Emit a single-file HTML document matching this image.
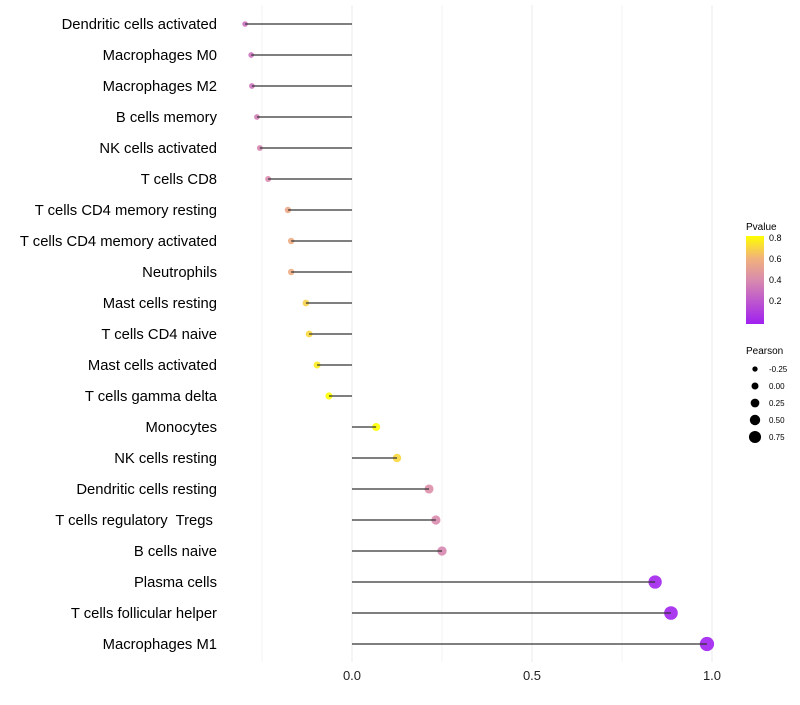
<!DOCTYPE html>
<html><head><meta charset="utf-8"><style>
body{margin:0;background:#fff;font-family:"Liberation Sans",sans-serif}
text{white-space:pre}
</style></head><body>
<svg id="chart" width="800" height="700">
<defs><linearGradient id="pg" x1="0" y1="1" x2="0" y2="0">
<stop offset="0" stop-color="#A020F0"/><stop offset="0.5" stop-color="#D98BAE"/><stop offset="0.75" stop-color="#F2B27A"/><stop offset="1" stop-color="#FFFF00"/></linearGradient></defs>
<g id="grid"></g>
<g id="marks"></g>
<g id="ylabels"></g>
<g id="xlabels"></g>
<g font-size="9" fill="#000">
<text x="746" y="230" font-size="10">Pvalue</text>
<rect x="746" y="236" width="18" height="88" fill="url(#pg)"/>
<g id="cbticks"></g>
</g>
<g font-size="9" fill="#000">
<text x="746" y="354" font-size="10">Pearson</text>
<g id="sizeleg"></g>
</g>
</svg>
<script>
const categories=["Dendritic cells activated","Macrophages M0","Macrophages M2","B cells memory","NK cells activated","T cells CD8","T cells CD4 memory resting","T cells CD4 memory activated","Neutrophils","Mast cells resting","T cells CD4 naive","Mast cells activated","T cells gamma delta","Monocytes","NK cells resting","Dendritic cells resting","T cells regulatory  Tregs ","B cells naive","Plasma cells","T cells follicular helper","Macrophages M1"];
const pearson=[-0.297,-0.28,-0.278,-0.264,-0.256,-0.233,-0.178,-0.169,-0.169,-0.128,-0.119,-0.097,-0.064,0.067,0.125,0.214,0.233,0.25,0.842,0.886,0.986];
const pvalue=[0.3,0.31,0.31,0.35,0.38,0.4,0.55,0.57,0.57,0.68,0.7,0.75,0.8,0.8,0.7,0.42,0.4,0.38,0.02,0.015,0.005];
const xTicks=[0,0.5,1];
const xMinor=[-0.25,0.25,0.75];
const cbTicks=[0.2,0.4,0.6,0.8];
const sizeLegend=[-0.25,0,0.25,0.5,0.75];
const NS="http://www.w3.org/2000/svg";
const X=v=>352+360*v;
const Y=i=>24+31*i;
const R=v=>Math.max(2,3.8+3.4*v);
const stops=[[0,[160,32,240]],[0.4,[217,139,174]],[0.6,[242,178,122]],[0.8,[255,255,0]]];
function col(p){p=Math.max(0,Math.min(0.8,p));for(let k=1;k<stops.length;k++){if(p<=stops[k][0]){const a=stops[k-1],b=stops[k],t=(p-a[0])/(b[0]-a[0]);return "rgb("+a[1].map((c,j)=>Math.round(c+(b[1][j]-c)*t)).join(",")+")";}}return "rgb(255,255,0)";}
function mk(t,a,p){const e=document.createElementNS(NS,t);for(const k in a)e.setAttribute(k,a[k]);p.appendChild(e);return e;}
const grid=document.getElementById('grid');
xMinor.concat(xTicks).forEach(v=>{const l=mk('line',{x1:X(v),x2:X(v),y1:5,y2:662,stroke:xTicks.includes(v)?'#ebebeb':'#f3f3f3','stroke-width':1},grid);

});
const marks=document.getElementById('marks'),yl=document.getElementById('ylabels'),xl=document.getElementById('xlabels');
categories.forEach((c,i)=>{
const d=mk('circle',{cx:X(pearson[i]),cy:Y(i),r:R(pearson[i]),fill:col(pvalue[i]),'fill-opacity':0.9},marks);


const s=mk('line',{x1:X(0),x2:X(pearson[i]),y1:Y(i),y2:Y(i),stroke:'#333','stroke-width':1.3},marks);


const t=mk('text',{x:217,y:Y(i)+5,'text-anchor':'end','font-size':14.8,fill:'#000'},yl);t.textContent=c;


});
xTicks.forEach(v=>{const t=mk('text',{x:X(v),y:680,'text-anchor':'middle','font-size':13,fill:'#222'},xl);t.textContent=v.toFixed(1);

});
const cb=document.getElementById('cbticks');
cbTicks.forEach(v=>{const y=322-(v/0.8)*84;const t=mk('text',{x:769,y:y+3},cb);t.textContent=v.toFixed(1);

});
const sl=document.getElementById('sizeleg');
sizeLegend.forEach((v,i)=>{const y=369+17*i;const c=mk('circle',{cx:755,cy:y,r:R(v)-0.3,fill:'#000'},sl);


const t=mk('text',{x:769,y:y+3,'font-size':8},sl);t.textContent=v.toFixed(2);

});
</script>
</body></html>
